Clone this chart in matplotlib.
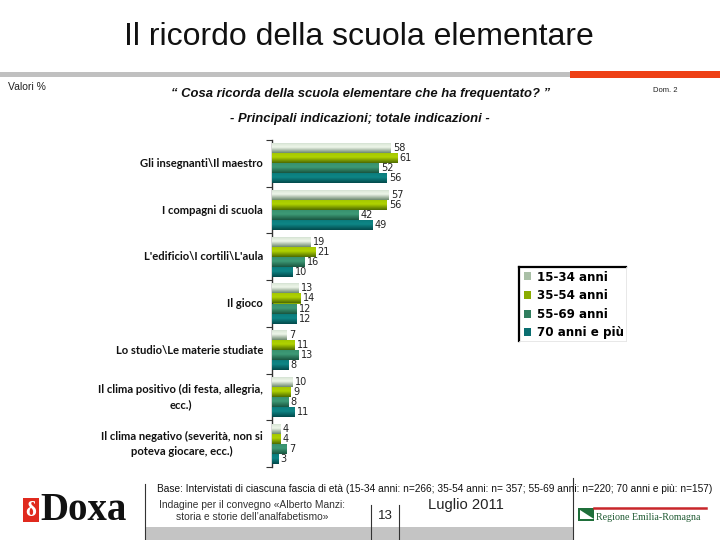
import matplotlib
matplotlib.use("Agg")
import matplotlib.pyplot as plt
import numpy as np
from matplotlib.patches import Rectangle, Patch, Polygon
from matplotlib.lines import Line2D
from matplotlib.colors import LinearSegmentedColormap

categories = [
    "Gli insegnanti\\Il maestro",
    "I compagni di scuola",
    "L'edificio\\I cortili\\L'aula",
    "Il gioco",
    "Lo studio\\Le materie studiate",
    "Il clima positivo (di festa, allegria,\necc.)",
    "Il clima negativo (severità, non si\npoteva giocare, ecc.)",
]
series_names = ["15-34 anni", "35-54 anni", "55-69 anni", "70 anni e più"]
v_15_34 = [58, 57, 19, 13, 7, 10, 4]
v_35_54 = [61, 56, 21, 14, 11, 9, 4]
v_55_69 = [52, 42, 16, 12, 13, 8, 7]
v_70 = [56, 49, 10, 12, 8, 11, 3]
series_values = [v_15_34, v_35_54, v_55_69, v_70]

# gradient stops (top, highlight, bottom) per series and solid legend colours
grad_stops = [
    ("#cddccb", "#eef6ea", "#6f8a70"),
    ("#a0c400", "#b0d200", "#4f6c00"),
    ("#368e6b", "#3d9a76", "#1a5640"),
    ("#0a7878", "#0e8686", "#034a4c"),
]
legend_colors = ["#a9bfa6", "#8aac00", "#2f7d5e", "#0a6e70"]

W, H = 720, 540
def fx(x):
    return x / W
def fy(y):
    return 1 - y / H

fig = plt.figure(figsize=(7.2, 5.4), dpi=100)
fig.patch.set_facecolor("white")

ax_left, ax_top, ax_bottom = 272, 140, 467
units_px = 2.05
ax_right = 500
ax = fig.add_axes([fx(ax_left), fy(ax_bottom), (ax_right - ax_left) / W, (ax_bottom - ax_top) / H])
xmax = (ax_right - ax_left) / units_px

n = len(categories)
bh = 0.215
ypos = np.arange(n)
for si, vals in enumerate(series_values):
    offs = (si - 1.5) * bh
    bars = ax.barh(ypos + offs, vals, height=bh, color=legend_colors[si], edgecolor="none", zorder=2)
    cmap = LinearSegmentedColormap.from_list("g%d" % si, [grad_stops[si][0], grad_stops[si][1], grad_stops[si][2]])
    grad = np.concatenate([np.linspace(0, 0.35, 8), np.linspace(0.35, 1, 20)])[:, None]
    for b, v in zip(bars, vals):
        x0, y0, w, h = b.get_x(), b.get_y(), b.get_width(), b.get_height()
        im = ax.imshow(grad, cmap=cmap, aspect="auto", origin="upper",
                       extent=(x0, x0 + w, y0 + h, y0), zorder=3, interpolation="bilinear")
        im.set_clip_path(b)
        ax.text(v + 1.2, y0 + h / 2, str(v), va="center", ha="left",
                fontsize=7, color="#222222", family="DejaVu Sans", zorder=4)

ax.set_xlim(0, xmax)
ax.set_ylim(n - 0.5, -0.5)
for s in ["top", "right", "bottom"]:
    ax.spines[s].set_visible(False)
ax.spines["left"].set_color("#333333")
ax.spines["left"].set_linewidth(1.0)
ax.set_xticks([])
ax.set_yticks(np.arange(-0.5, n, 1.0))
ax.set_yticklabels([])
ax.tick_params(axis="y", length=4, width=0.8, color="#333333", direction="out")
for i, c in enumerate(categories):
    ax.text(-9 / units_px, i, c, ha="right", va="center", multialignment="center",
            fontsize=8.1, fontweight="bold", family="Lato", color="#111111",
            linespacing=1.45)

# legend
handles = [Patch(facecolor=c, edgecolor="none") for c in legend_colors]
leg = ax.legend(handles, series_names, loc="upper left",
                bbox_to_anchor=(fx(520), fy(267)), bbox_transform=fig.transFigure,
                frameon=False, handlelength=0.65, handleheight=0.65, handletextpad=0.45,
                labelspacing=0.47, borderpad=0.3, borderaxespad=0,
                prop={"family": "DejaVu Sans", "weight": "bold", "size": 8.6})
fig.add_artist(Line2D([fx(519), fx(519)], [fy(267), fy(341)], color="black", lw=1.6))
fig.add_artist(Line2D([fx(519), fx(626)], [fy(267), fy(267)], color="black", lw=1.6))
fig.add_artist(Line2D([fx(626), fx(626)], [fy(267), fy(341)], color="#e4e4e4", lw=0.6))
fig.add_artist(Line2D([fx(519), fx(626)], [fy(341), fy(341)], color="#e4e4e4", lw=0.6))

# header
fig.text(fx(359), fy(37), "Il ricordo della scuola elementare", ha="center", va="center",
         fontsize=23, family="Liberation Sans", color="#111111")
fig.add_artist(Rectangle((0, fy(77)), fx(570), (77 - 72) / H, transform=fig.transFigure,
                         facecolor="#c0c0c0", edgecolor="none"))
fig.add_artist(Rectangle((fx(570), fy(78)), fx(150), (78 - 71) / H, transform=fig.transFigure,
                         facecolor="#ee4015", edgecolor="none"))
fig.text(fx(8), fy(87), "Valori %", ha="left", va="center", fontsize=7.5,
         family="Liberation Sans", color="#222222")
fig.text(fx(653), fy(90), "Dom. 2", ha="left", va="center", fontsize=5.5,
         family="Liberation Sans", color="#222222")
fig.text(fx(361), fy(94), "\u201c Cosa ricorda della scuola elementare che ha frequentato? \u201d",
         ha="center", va="center", fontsize=9.4, style="italic", fontweight="bold",
         family="Liberation Sans", color="#111111")
fig.text(fx(360), fy(119), "- Principali indicazioni; totale indicazioni -",
         ha="center", va="center", fontsize=9.4, style="italic", fontweight="bold",
         family="Liberation Sans", color="#111111")

# footer
fig.text(fx(712), fy(489),
         "Base: Intervistati di ciascuna fascia di età (15-34 anni: n=266; 35-54 anni: n= 357; 55-69 anni: n=220; 70 anni e più: n=157)",
         ha="right", va="center", fontsize=7.3, family="Liberation Sans", color="#111111")
for x, y0 in [(145, 484), (371, 505), (399, 505), (573, 478)]:
    fig.add_artist(Line2D([fx(x), fx(x)], [fy(y0), fy(540)], color="#333333", lw=0.8))
fig.add_artist(Rectangle((fx(145), 0), fx(573 - 145), 13 / H, transform=fig.transFigure,
                         facecolor="#c4c4c4", edgecolor="none", zorder=0))
fig.text(fx(252), fy(511), "Indagine per il convegno \u00abAlberto Manzi:\nstoria e storie dell\u2019analfabetismo\u00bb",
         ha="center", va="center", fontsize=7.4, family="Liberation Sans", color="#333333",
         linespacing=1.25)
fig.text(fx(385), fy(516), "13", ha="center", va="center", fontsize=9.5,
         family="Liberation Sans", color="#222222")
fig.text(fx(466), fy(505), "Luglio 2011", ha="center", va="center", fontsize=10.6,
         family="Liberation Sans", color="#222222")

# Doxa logo
fig.add_artist(Rectangle((fx(23), fy(522)), fx(16), 24 / H,
                         transform=fig.transFigure, facecolor="#e02a1e", edgecolor="none"))
fig.text(fx(31), fy(511), "\u03b4", ha="center", va="center", fontsize=15,
         family="Liberation Serif", color="white", fontweight="bold")
fig.text(fx(40), fy(511), "Doxa", ha="left", va="center", fontsize=28,
         family="Liberation Serif", fontweight="bold", color="#111111")

# Regione Emilia-Romagna logo
fig.add_artist(Line2D([fx(594), fx(706)], [fy(508), fy(508)], color="#c8262a", lw=1.8))
fig.add_artist(Polygon([[fx(578), fy(508)], [fx(594), fy(508)], [fx(594), fy(521)], [fx(578), fy(521)]],
                       closed=True, transform=fig.transFigure, facecolor="#1f6f3a", edgecolor="none"))
fig.add_artist(Polygon([[fx(580), fy(510)], [fx(594), fy(519)], [fx(580), fy(519)]],
                       closed=True, transform=fig.transFigure, facecolor="white", edgecolor="none"))
fig.text(fx(596), fy(517), "Regione Emilia-Romagna", ha="left", va="center", fontsize=7.2,
         family="Liberation Serif", color="#1f5a32")

fig.savefig("out.png", dpi=100)
